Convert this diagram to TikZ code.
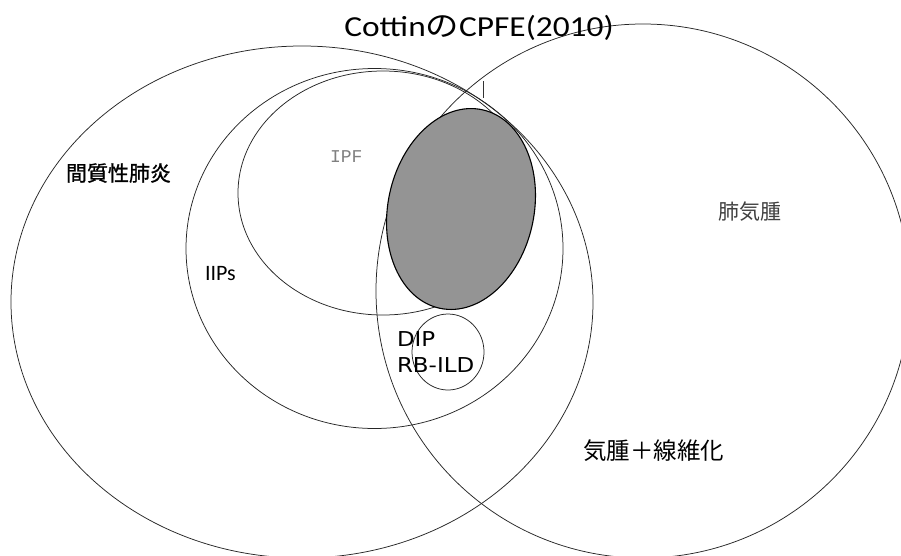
\documentclass[tikz,border=0pt]{standalone}
\usepackage{fontspec}
\setmainfont{Carlito}
\newfontfamily\jp{Noto Sans CJK JP}
\newfontfamily\jpb[FakeBold=1.2]{Noto Sans CJK JP}
\newfontfamily\ipffont{Liberation Mono}
\newfontfamily\dipfont{DejaVu Sans}
\usetikzlibrary{shapes.geometric}
\definecolor{shade}{RGB}{148,148,148}
\tikzset{
  venn/.style={draw=black!85, line width=0.75pt, ellipse, inner sep=0pt, outer sep=0pt},
  lbl/.style={inner sep=0pt, outer sep=0pt, text=black},
}
\begin{document}
\begin{tikzpicture}[x=1pt, y=-1pt]
\useasboundingbox (0,0) rectangle (901,555);
\clip (0,0) rectangle (901,555);
\fill[white] (0,0) rectangle (901,555);
% big circles
\node[venn, minimum width=582pt, minimum height=512pt] (ild) at (302,302) {};
\node[venn, minimum width=534pt, minimum height=534pt] (emph) at (643,291) {};
\node[venn, minimum width=377pt, minimum height=360pt] (iips) at (374.5,248.5) {};
\node[venn, minimum width=290pt, minimum height=244pt] (ipf) at (383,193) {};
\node[venn, minimum width=72pt, minimum height=76pt] (dip) at (448,352) {};
% shaded CPFE region
\node[draw=black, line width=1.1pt, fill=shade, ellipse, inner sep=0pt,
      minimum width=146pt, minimum height=203pt, rotate=-12] (cpfe) at (461,209) {};
% small tick
\coordinate (t1) at (483,81);
\coordinate (t2) at (483,98);
\draw[black!80, line width=0.7pt] (t1) -- (t2);
% labels
\node[lbl] (title) at (479,28) {\scalebox{1.15}[1]{\fontsize{29}{32}\selectfont Cottin{\jp の}CPFE(2010)}};
\node[lbl, anchor=west] (l-ild) at (66,173) {\jpb\fontsize{21}{24}\selectfont 間質性肺炎};
\node[lbl, anchor=west, text=black!75] (l-emph) at (718,212) {\jp\fontsize{21}{24}\selectfont 肺気腫};
\node[lbl, anchor=west] (l-cpfe) at (583,451) {\jp\fontsize{23.5}{26}\selectfont 気腫＋線維化};
\node[lbl, anchor=west] (l-iips) at (205,274) {\fontsize{22}{26}\selectfont IIPs};
\node[lbl, anchor=west, text=black!50] (l-ipf) at (330,157) {\ipffont\fontsize{18}{20}\selectfont IPF};
\node[lbl, anchor=west] (l-dip) at (397,339) {\scalebox{1.12}[1]{\dipfont\fontsize{20.5}{24}\selectfont DIP}};
\node[lbl, anchor=west] (l-rb) at (397,365) {\scalebox{1.12}[1]{\dipfont\fontsize{20.5}{24}\selectfont RB-ILD}};
\end{tikzpicture}
\end{document}
